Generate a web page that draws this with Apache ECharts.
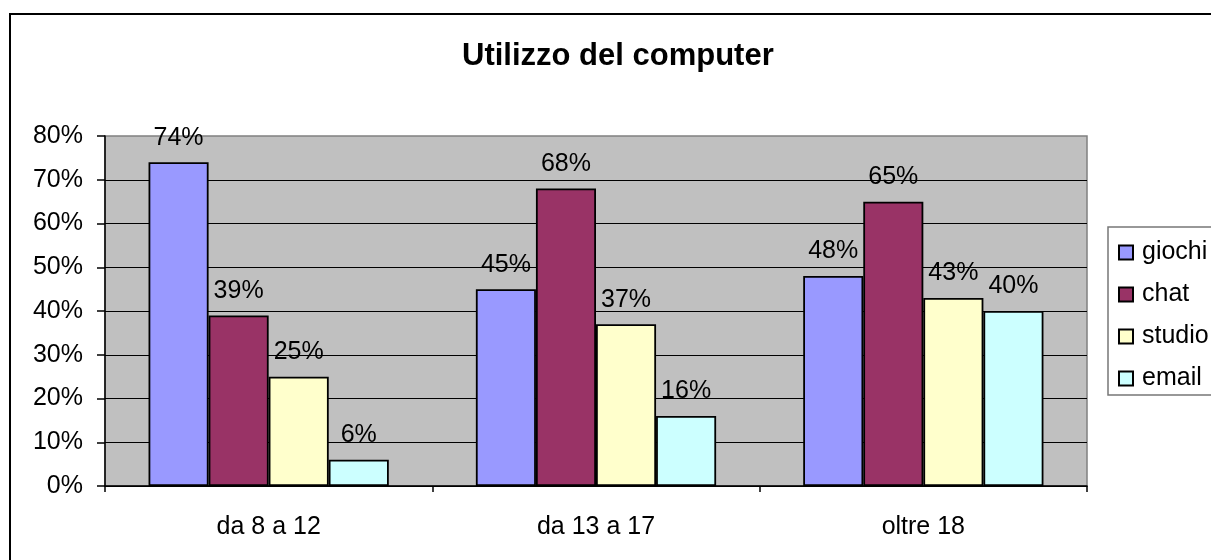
<!DOCTYPE html>
<html>
<head>
<meta charset="utf-8">
<script src="https://cdn.jsdelivr.net/npm/echarts@6/dist/echarts.min.js"></script>
<style>
  html, body { margin: 0; padding: 0; background: #fff; }
  #chart { width: 1211px; height: 560px; }
</style>
</head>
<body>
<div id="chart"></div>
<script>
// dati
var categories = ["da 8 a 12", "da 13 a 17", "oltre 18"];
var giochi = [74, 45, 48];
var chat = [39, 68, 65];
var studio = [25, 37, 43];
var email = [6, 16, 40];

var font = "'Liberation Sans', Arial, sans-serif";

function barSeries(name, data, color) {
  return {
    name: name,
    type: "bar",
    data: data,
    barGap: 0,
    barCategoryGap: "26.6%",
    itemStyle: { color: color, borderColor: "#000", borderWidth: 1.8 },
    label: {
      show: true,
      position: "top",
      distance: 12,
      formatter: "{c}%",
      color: "#000",
      fontSize: 25,
      fontFamily: font
    }
  };
}

var myChart = echarts.init(document.getElementById("chart"));
var option = {
  backgroundColor: "#fff",
  animation: false,
  title: {
    text: "Utilizzo del computer",
    left: 457,
    top: 36,
    textStyle: { fontSize: 31, fontWeight: "bold", color: "#000", fontFamily: font }
  },
  graphic: [{
    type: "rect",
    shape: { x: 10, y: 14, width: 1400, height: 800 },
    style: { fill: "none", stroke: "#000", lineWidth: 2 },
    z: 100
  }],
  legend: {
    orient: "vertical",
    left: 1108,
    top: 227,
    padding: [13, 40, 4, 10],
    itemGap: 17,
    itemWidth: 14,
    itemHeight: 14,
    icon: "rect",
    borderColor: "#777",
    borderWidth: 1.5,
    itemStyle: { borderColor: "#000", borderWidth: 2 },
    textStyle: { fontSize: 25, color: "#000", fontFamily: font, padding: [0, 0, 0, 4] },
    data: ["giochi", "chat", "studio", "email"]
  },
  grid: {
    left: 105,
    right: 124,
    top: 136,
    bottom: 74,
    show: true,
    backgroundColor: "#C0C0C0",
    borderColor: "#808080",
    borderWidth: 1.5
  },
  xAxis: {
    type: "category",
    data: categories,
    axisLine: { lineStyle: { color: "#000", width: 1.5 } },
    axisTick: { show: true, length: 6, lineStyle: { color: "#000", width: 1.5 } },
    axisLabel: { margin: 29, fontSize: 25, color: "#000", fontFamily: font }
  },
  yAxis: {
    type: "value",
    min: 0,
    max: 80,
    interval: 10,
    axisLine: { show: true, lineStyle: { color: "#000", width: 1.5 } },
    axisTick: { show: true, length: 8, lineStyle: { color: "#000", width: 1.5 } },
    axisLabel: { margin: 22, fontSize: 25, color: "#000", fontFamily: font, formatter: "{value}%" },
    splitLine: { show: true, showMaxLine: false, lineStyle: { color: "#000", width: 1 } }
  },
  series: [
    barSeries("giochi", giochi, "#9999FF"),
    barSeries("chat", chat, "#993366"),
    barSeries("studio", studio, "#FFFFCC"),
    barSeries("email", email, "#CCFFFF")
  ]
};
window.onresize = myChart.resize;
myChart.setOption(option);
</script>
</body>
</html>
